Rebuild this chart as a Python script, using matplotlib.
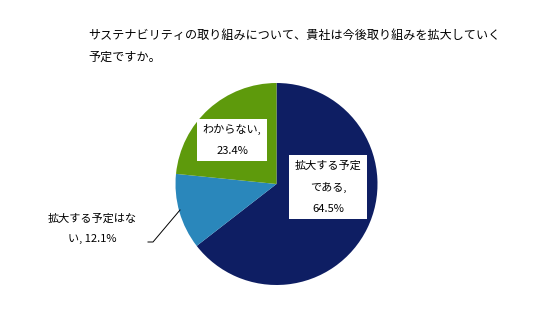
import matplotlib.pyplot as plt

plt.rcParams['font.family'] = ['Noto Sans CJK JP', 'DejaVu Sans']

title = "サステナビリティの取り組みについて、貴社は今後取り組みを拡大していく\n予定ですか。"
labels = ["拡大する予定\nである,\n64.5%", "拡大する予定はな\nい, 12.1%", "わからない,\n23.4%"]
values = [64.5, 12.1, 23.4]
colors = ["#0E1E63", "#2A87BB", "#5E9A0C"]

W, H = 536, 311
fig = plt.figure(figsize=(W / 100, H / 100), dpi=100)

# pie centre and radius in pixels
cx, cy, r = 276.5, 184, 101
ax = fig.add_axes([(cx - r) / W, (H - cy - r) / H, 2 * r / W, 2 * r / H])
ax.pie(values, colors=colors, startangle=90, counterclock=False, radius=1,
       wedgeprops=dict(linewidth=0))
ax.set_xlim(-1, 1)
ax.set_ylim(-1, 1)
ax.set_aspect('equal')
ax.axis('off')


def px(x, y):
    return x / W, 1 - y / H


fig.text(*px(88, 46), title, fontsize=8.7, ha='left', va='center', linespacing=1.9)

box = dict(facecolor='white', edgecolor='none', pad=4)
fig.text(*px(328, 187), labels[0], fontsize=8, ha='center', va='center',
         linespacing=2.3, bbox=box)
fig.text(*px(232, 140), labels[2], fontsize=8, ha='center', va='center',
         linespacing=2.3, bbox=box)
fig.text(*px(92, 229), labels[1], fontsize=8, ha='center', va='center',
         linespacing=2.3)

# leader line for the small slice
fig.add_artist(plt.Line2D([148 / W, 153 / W, 180 / W],
                          [1 - 242 / H, 1 - 242 / H, 1 - 210 / H],
                          color='black', linewidth=0.7))

fig.savefig("out.png", dpi=100)
